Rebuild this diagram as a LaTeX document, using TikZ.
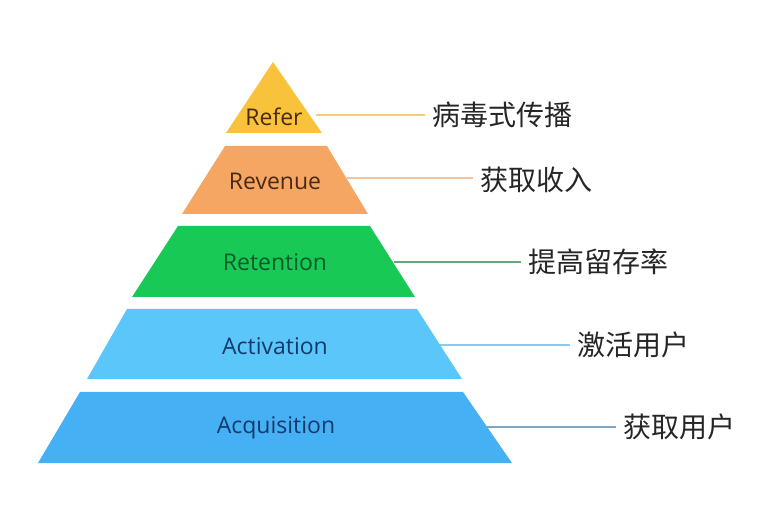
\documentclass[tikz,border=0pt]{standalone}
\usepackage{fontspec}
\setmainfont{Open Sans}
\newfontfamily\cjk{Noto Sans CJK SC}
\usetikzlibrary{positioning}

\definecolor{referfill}{HTML}{F8C23A}
\definecolor{revfill}{HTML}{F4A662}
\definecolor{retfill}{HTML}{19C955}
\definecolor{actfill}{HTML}{5BC6F9}
\definecolor{acqfill}{HTML}{46B0F5}
\definecolor{referline}{HTML}{F6CD7E}
\definecolor{revline}{HTML}{F3C59C}
\definecolor{retline}{HTML}{5FA878}
\definecolor{actline}{HTML}{8CCBEA}
\definecolor{acqline}{HTML}{7FA6C4}
\definecolor{warmtext}{HTML}{4A2A12}
\definecolor{greentext}{HTML}{0E5A2A}
\definecolor{bluetext}{HTML}{123A6B}

\tikzset{
  layer/.style={inner sep=0pt, font=\fontsize{11.5}{13}\selectfont},
  tag/.style={anchor=west, inner sep=0pt, text=black!85, font=\cjk\fontsize{14}{16}\selectfont},
  lead/.style={line width=0.8pt}
}

\begin{document}
\begin{tikzpicture}[x=0.5pt, y=-0.5pt]
  \useasboundingbox (0,0) rectangle (760,507);
  % layers, top to bottom
  \fill[referfill] (273,62) -- (322,133) -- (226,133) -- cycle;
  \fill[revfill] (225,146) -- (327,146) -- (368,214) -- (182,214) -- cycle;
  \fill[retfill] (178,226) -- (370,226) -- (415,297) -- (132,297) -- cycle;
  \fill[actfill] (127,309) -- (417,309) -- (462,379) -- (87,379) -- cycle;
  \fill[acqfill] (80,392) -- (463,392) -- (512,463) -- (38,463) -- cycle;

  \node[layer, text=warmtext] (refer) at (274,117) {Refer};
  \node[layer, text=warmtext] (rev) at (275,181) {Revenue};
  \node[layer, text=greentext] (ret) at (275,262) {Retention};
  \node[layer, text=bluetext] (act) at (275,346) {Activation};
  \node[layer, text=bluetext] (acq) at (276,428) {Acquisition};

  % right edges where the leads start
  \coordinate (referR) at (316,115);
  \coordinate (revR) at (347,178);
  \coordinate (retR) at (394,262);
  \coordinate (actR) at (440,345);
  \coordinate (acqR) at (487,427);

  \node[tag] (referT) at (432,115) {病毒式传播};
  \node[tag] (revT) at (480,180) {获取收入};
  \node[tag] (retT) at (528,262) {提高留存率};
  \node[tag] (actT) at (577,345) {激活用户};
  \node[tag] (acqT) at (623,427) {获取用户};

  \draw[lead, referline] (referR) -- ([xshift=-3.5pt]referR -| referT.west);
  \draw[lead, revline] (revR) -- ([xshift=-3.5pt]revR -| revT.west);
  \draw[lead, retline] (retR) -- ([xshift=-3.5pt]retR -| retT.west);
  \draw[lead, actline] (actR) -- ([xshift=-3.5pt]actR -| actT.west);
  \draw[lead, acqline] (acqR) -- ([xshift=-3.5pt]acqR -| acqT.west);
\end{tikzpicture}
\end{document}
